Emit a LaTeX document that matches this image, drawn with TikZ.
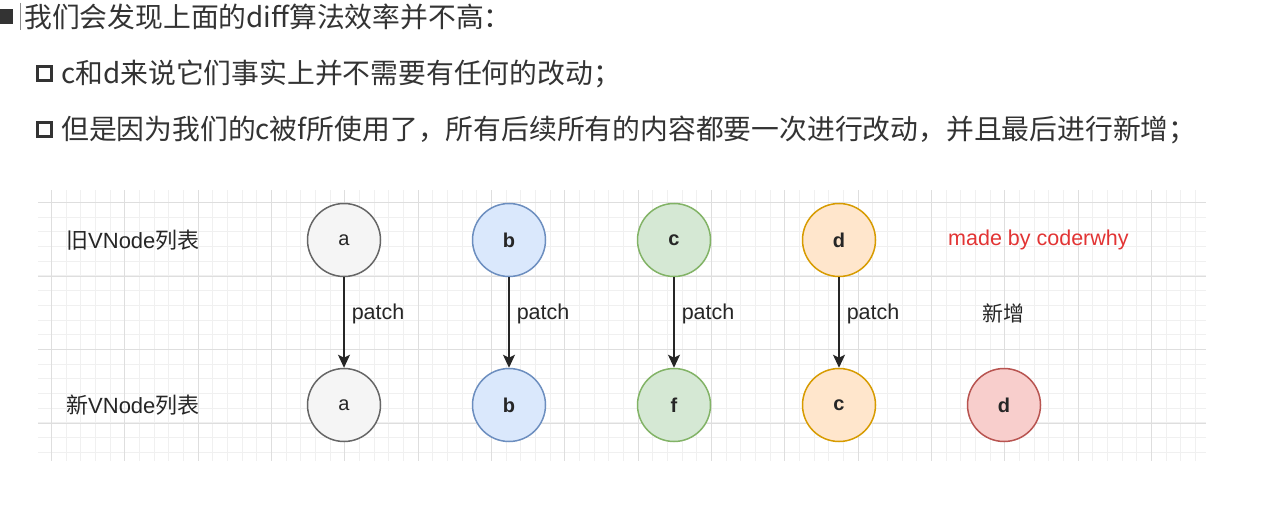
\documentclass[tikz,border=0pt]{standalone}
\usepackage{fontspec}
\setmainfont{Liberation Sans}
\newfontfamily\cjk{Noto Sans CJK SC}
\usetikzlibrary{arrows.meta}

\definecolor{txt}{RGB}{51,51,51}
\definecolor{gridminor}{RGB}{240,240,240}
\definecolor{gridmajor}{RGB}{222,222,222}
\definecolor{redtxt}{RGB}{226,52,52}
\definecolor{grayfill}{HTML}{F5F5F5}\definecolor{graydraw}{HTML}{666666}
\definecolor{bluefill}{HTML}{DAE8FC}\definecolor{bluedraw}{HTML}{6C8EBF}
\definecolor{greenfill}{HTML}{D5E8D4}\definecolor{greendraw}{HTML}{82B366}
\definecolor{orangefill}{HTML}{FFE6CC}\definecolor{orangedraw}{HTML}{D79B00}
\definecolor{redfill}{HTML}{F8CECC}\definecolor{reddraw}{HTML}{B85450}

\tikzset{
  headline/.style={anchor=west, inner sep=0pt, text=txt, font=\cjk\fontsize{27.8}{32}\selectfont},
  hollowbullet/.style={draw=txt, line width=3pt, fill=white, minimum size=14pt, inner sep=0pt},
  rowlabel/.style={anchor=west, inner sep=0pt, text=black!85, font=\fontsize{22}{26}\selectfont},
  vnode/.style={circle, line width=1.5pt, minimum size=73pt, inner sep=0pt,
                text=black!85, font=\fontsize{20}{24}\selectfont\bfseries},
  grayv/.style={vnode, fill=grayfill, draw=graydraw, font=\fontsize{20}{24}\selectfont},
  bluev/.style={vnode, fill=bluefill, draw=bluedraw},
  greenv/.style={vnode, fill=greenfill, draw=greendraw},
  orangev/.style={vnode, fill=orangefill, draw=orangedraw},
  redv/.style={vnode, fill=redfill, draw=reddraw},
  patcharrow/.style={draw=black!85, line width=1.5pt,
                     -{Stealth[length=13pt, width=12pt, inset=3pt]}},
  patchlabel/.style={pos=0.4, anchor=west, xshift=7pt, inner sep=0pt,
                     text=black!85, font=\fontsize{21.5}{25}\selectfont},
}

\begin{document}
\begin{tikzpicture}[x=1pt, y=-1pt]
\useasboundingbox (0,0) rectangle (1263,516);

% heading and bullet points
\fill[txt] (0,9) rectangle (13,24);
\draw[black!45, line width=0.8pt] (20,3) -- (20,30);
\node[headline] (h1) at (24,17) {我们会发现上面的diff算法效率并不高：};
\node[hollowbullet] (b1) at (44,74) {};
\node[headline] (h2) at (61,74) {c和d来说它们事实上并不需要有任何的改动；};
\node[hollowbullet] (b2) at (44,130) {};
\node[headline] (h3) at (61,130) {但是因为我们的c被f所使用了，所有后续所有的内容都要一次进行改动，并且最后进行新增；};

% background grid, lines snapped to the pixel grid
\begin{scope}
  \clip (38,190) rectangle (1206,461);
  \fill[white] (38,190) rectangle (1206,461);
  \foreach \i in {-1,...,80} {
    \draw[gridminor, line width=1pt] ({round(51+14.667*\i)+0.5},190) -- ({round(51+14.667*\i)+0.5},461);
  }
  \foreach \j in {-1,...,19} {
    \draw[gridminor, line width=1pt] (38,{round(202+14.7*\j)+0.5}) -- (1206,{round(202+14.7*\j)+0.5});
  }
  \foreach \i in {0,...,16} {
    \draw[gridmajor, line width=1.4pt] ({round(51+73.333*\i)+0.5},190) -- ({round(51+73.333*\i)+0.5},461);
  }
  \foreach \j in {0,...,3} {
    \draw[gridmajor, line width=1.4pt] (38,{round(202+73.5*\j)+0.5}) -- (1206,{round(202+73.5*\j)+0.5});
  }
\end{scope}

% row labels
\node[rowlabel] (oldlbl) at (66,240) {{\cjk 旧}VNode{\cjk 列表}};
\node[rowlabel] (newlbl) at (66,405) {{\cjk 新}VNode{\cjk 列表}};
\node[anchor=west, inner sep=0pt, text=redtxt, font=\fontsize{21.5}{25}\selectfont] (credit) at (948,240) {made by coderwhy};
\node[rowlabel, anchor=center, font=\fontsize{21}{25}\selectfont] (addlbl) at (1003,313) {\cjk 新增};

% old vnodes
\node[grayv]   (oa) at (344,240) {a};
\node[bluev]   (ob) at (509,240) {b};
\node[greenv]  (oc) at (674,240) {c};
\node[orangev] (od) at (839,240) {d};

% new vnodes
\node[grayv]   (na) at (344,405) {a};
\node[bluev]   (nb) at (509,405) {b};
\node[greenv]  (nf) at (674,405) {f};
\node[orangev] (nc) at (839,405) {c};
\node[redv]    (nd) at (1004,405) {d};

% patch arrows
\draw[patcharrow] (oa) -- node[patchlabel] (p1) {patch} (na);
\draw[patcharrow] (ob) -- node[patchlabel] (p2) {patch} (nb);
\draw[patcharrow] (oc) -- node[patchlabel] (p3) {patch} (nf);
\draw[patcharrow] (od) -- node[patchlabel] (p4) {patch} (nc);
\end{tikzpicture}
\end{document}
